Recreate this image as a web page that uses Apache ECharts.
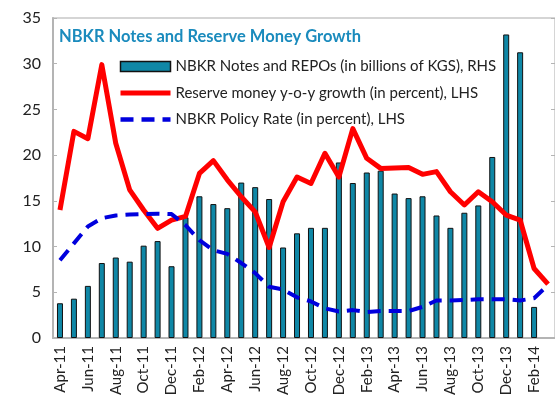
<!DOCTYPE html>
<html>
<head>
<meta charset="utf-8">
<script src="https://cdn.jsdelivr.net/npm/echarts@6/dist/echarts.min.js"></script>
<style>
    html, body { margin: 0; padding: 0; background: #fff; }
    #chart { width: 555px; height: 402px; }
</style>
</head>
<body>
<div id="chart"></div>
<script>
    var months = ["Apr-11", "May-11", "Jun-11", "Jul-11", "Aug-11", "Sep-11", "Oct-11", "Nov-11", "Dec-11",
        "Jan-12", "Feb-12", "Mar-12", "Apr-12", "May-12", "Jun-12", "Jul-12", "Aug-12", "Sep-12", "Oct-12", "Nov-12", "Dec-12",
        "Jan-13", "Feb-13", "Mar-13", "Apr-13", "May-13", "Jun-13", "Jul-13", "Aug-13", "Sep-13", "Oct-13", "Nov-13", "Dec-13",
        "Jan-14", "Feb-14", "Mar-14"];
    // NBKR Notes and REPOs, billions of KGS (RHS)
    var notes = [3.8, 4.3, 5.7, 8.2, 8.8, 8.35, 10.1, 10.6, 7.85,
        13.2, 15.5, 14.65, 14.2, 17.0, 16.5, 15.2, 9.9, 11.45, 12.05, 12.05, 19.2,
        16.95, 18.1, 18.3, 15.8, 15.3, 15.5, 13.4, 12.05, 13.7, 14.5, 19.8, 33.2,
        31.25, 3.4, null];
    // reserve money y-o-y growth, percent (LHS)
    var reserve = [14.0, 22.6, 21.8, 29.9, 21.3, 16.2, 14.0, 12.0, 12.9,
        13.3, 18.0, 19.4, 17.3, 15.45, 13.8, 9.9, 14.9, 17.6, 16.9, 20.2, 17.6,
        22.9, 19.65, 18.55, 18.6, 18.65, 17.9, 18.2, 16.0, 14.55, 16.0, 14.9, 13.45,
        12.9, 7.6, 5.9];
    // NBKR policy rate, percent (LHS)
    var policy = [8.5, 10.35, 12.2, 13.1, 13.4, 13.5, 13.55, 13.6, 13.55,
        12.35, 10.7, 9.6, 9.2, 8.2, 7.1, 5.6, 5.3, 4.45, 4.0, 3.25, 2.9,
        3.05, 2.85, 2.95, 2.95, 2.95, 3.4, 4.1, 4.1, 4.15, 4.25, 4.25, 4.25,
        4.1, 4.35, 5.8];
    var yTicks = { min: 0, max: 35, interval: 5 };

    var names = {
        bar: "NBKR Notes and REPOs (in billions of KGS), RHS",
        res: "Reserve money y-o-y growth (in percent), LHS",
        pol: "NBKR Policy Rate (in percent), LHS"
    };
    var font = "Lato, 'Noto Sans', sans-serif";
    var gray = "#b4b4b4";

    var chart = echarts.init(document.getElementById("chart"));
    chart.setOption({
        animation: false,
        textStyle: { fontFamily: font },
        title: {
            text: "NBKR Notes and Reserve Money Growth",
            left: 54, top: 23,
            textStyle: { color: "#1a8bbd", fontSize: 16.5, fontWeight: "bold", fontFamily: font }
        },
        legend: {
            orient: "vertical",
            left: 113, top: 54,
            itemWidth: 50, itemHeight: 10, itemGap: 11.5,
            textStyle: { color: "#222", fontSize: 15, fontFamily: font },
            data: [
                { name: names.bar, icon: "rect", itemStyle: { borderWidth: 1.5, borderColor: "#111" } },
                { name: names.res, itemStyle: { opacity: 0 }, lineStyle: { width: 5 } },
                { name: names.pol, itemStyle: { opacity: 0 }, lineStyle: { width: 4.5, type: [13, 8] } }
            ]
        },
        grid: {
            left: 53, top: 18, right: -3, bottom: 64,
            show: true, borderColor: "#c8c8c8", borderWidth: 1.5
        },
        xAxis: {
            type: "category",
            data: months,
            boundaryGap: true,
            axisLine: { lineStyle: { color: gray, width: 2 } },
            axisTick: { inside: true, interval: 1, length: 5, lineStyle: { color: gray } },
            axisLabel: { interval: 1, rotate: 90, color: "#222", fontSize: 15, fontFamily: font, margin: 8 }
        },
        yAxis: [{
            type: "value",
            min: yTicks.min, max: yTicks.max, interval: yTicks.interval,
            axisLine: { show: true, lineStyle: { color: gray, width: 2 } },
            axisTick: { show: true, inside: true, length: 4, lineStyle: { color: gray } },
            splitLine: { show: false },
            axisLabel: { color: "#222", fontSize: 16, fontFamily: font, margin: 12 }
        }, {
            type: "value",
            position: "right",
            min: yTicks.min, max: yTicks.max, interval: yTicks.interval,
            axisLine: { show: false },
            axisTick: { show: true, inside: true, length: 4, lineStyle: { color: gray } },
            splitLine: { show: false },
            axisLabel: { show: false }
        }],
        series: [{
            name: names.bar,
            type: "bar",
            yAxisIndex: 1,
            data: notes,
            barWidth: 6,
            itemStyle: { color: "#0f87a6", borderColor: "#111", borderWidth: 1 }
        }, {
            name: names.res,
            type: "line",
            data: reserve,
            symbol: "none",
            lineStyle: { color: "#ff0000", width: 5, join: "round" },
            itemStyle: { color: "#ff0000" }
        }, {
            name: names.pol,
            type: "line",
            data: policy,
            symbol: "none",
            lineStyle: { color: "#0000dd", width: 4, type: [13, 8] },
            itemStyle: { color: "#0000dd" }
        }]
    });
</script>
</body>
</html>
